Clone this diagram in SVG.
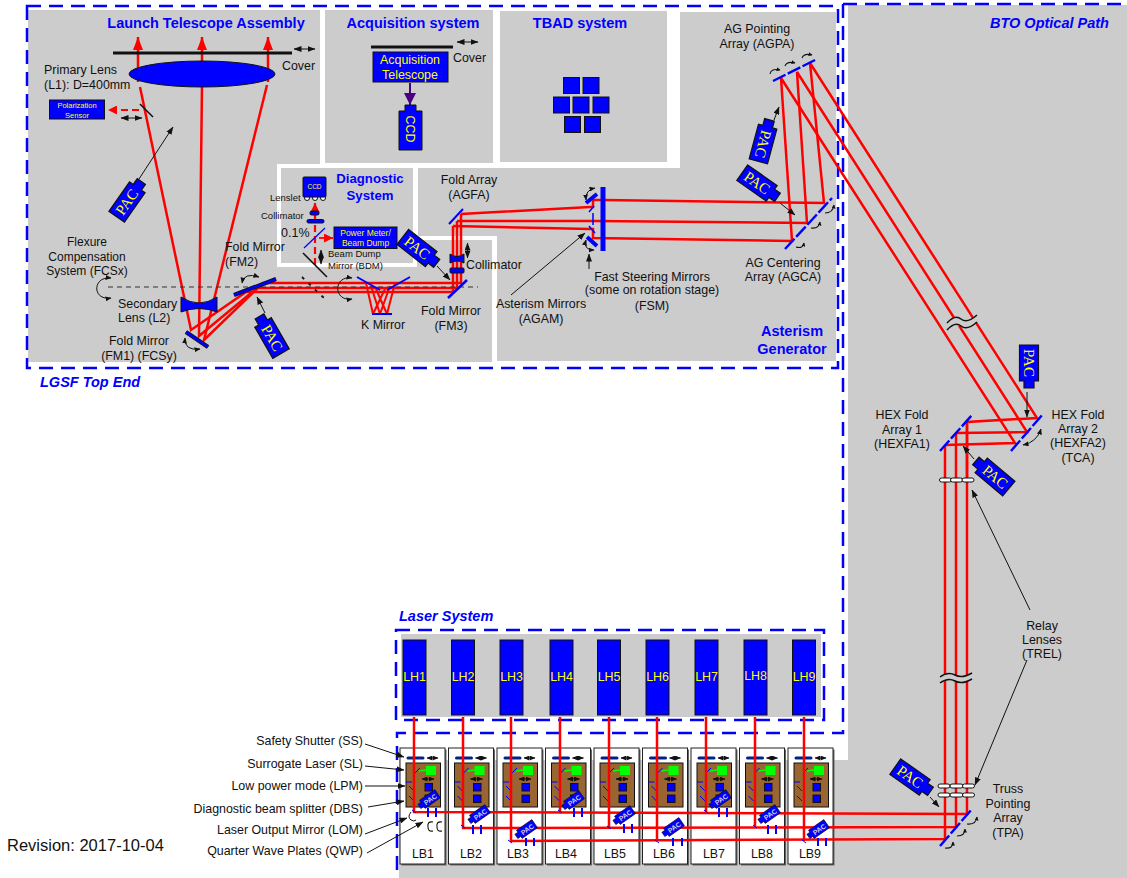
<svg xmlns="http://www.w3.org/2000/svg" width="1127" height="878" viewBox="0 0 1127 878">
<style>
text{font-family:"Liberation Sans",Arial,sans-serif;fill:#111;font-size:12.4px}
.m{text-anchor:middle}
.e{text-anchor:end}
.t{font-weight:bold;fill:#00f;font-size:14.5px;text-anchor:middle}
.i{font-weight:bold;font-style:italic;fill:#00f;font-size:14.5px}
.y{fill:#ff0;text-anchor:middle}
.p{font-family:"Liberation Serif",serif;font-size:15px;fill:#ff0;text-anchor:middle}
.ps{font-family:"Liberation Sans",sans-serif;font-size:7px;font-weight:bold;fill:#ccd;text-anchor:middle}
.bg{fill:#ccc}
.dash{fill:none;stroke:#00f;stroke-width:2.5;stroke-dasharray:14 8}
.b{fill:#00f;stroke:#111;stroke-width:1}
.r{fill:none;stroke:#f00;stroke-width:2.5;stroke-linejoin:miter}
.rd{fill:none;stroke:#f00;stroke-width:2.2;stroke-dasharray:7 4}
.a{fill:none;stroke:#111;stroke-width:1;marker-end:url(#ah)}
.d{fill:none;stroke:#111;stroke-width:1;marker-start:url(#ahs);marker-end:url(#ah)}
.c{fill:none;stroke:#111;stroke-width:1;marker-end:url(#ah2);marker-start:url(#ah2s)}
.cs{fill:none;stroke:#111;stroke-width:1.1;marker-end:url(#ah3)}
.mb{fill:none;stroke:#00f;stroke-width:2}
.mbd{fill:none;stroke:#00f;stroke-width:2.4;stroke-dasharray:14 2.5}
.mt{fill:none;stroke:#111;stroke-width:4.2}
.mf{fill:none;stroke:#00f;stroke-width:2.6}
.lens{fill:#fff;stroke:#111;stroke-width:1}
</style>
<defs>
<marker id="ah" viewBox="0 0 8 6" refX="7.5" refY="3" markerWidth="8" markerHeight="6" markerUnits="userSpaceOnUse" orient="auto"><path d="M0,0L8,3L0,6Z" fill="#111"/></marker>
<marker id="ahs" viewBox="0 0 8 6" refX="0.5" refY="3" markerWidth="8" markerHeight="6" markerUnits="userSpaceOnUse" orient="auto"><path d="M8,0L0,3L8,6Z" fill="#111"/></marker>
<marker id="ah2" viewBox="0 0 6 5" refX="5.5" refY="2.500" markerWidth="6" markerHeight="5" markerUnits="userSpaceOnUse" orient="auto"><path d="M0,0L6,2.500L0,5Z" fill="#111"/></marker>
<marker id="ah2s" viewBox="0 0 6 5" refX="0.5" refY="2.500" markerWidth="6" markerHeight="5" markerUnits="userSpaceOnUse" orient="auto"><path d="M6,0L0,2.500L6,5Z" fill="#111"/></marker>
<marker id="ah3" viewBox="0 0 4 4" refX="3.500" refY="2" markerWidth="4" markerHeight="4" markerUnits="userSpaceOnUse" orient="auto"><path d="M0,0L4,2L0,4Z" fill="#111"/></marker>
<marker id="rh" viewBox="0 0 13 10" refX="13" refY="5" markerWidth="13" markerHeight="10" markerUnits="userSpaceOnUse" orient="auto"><path d="M0,0L13,5L0,10Z" fill="#f00"/></marker>
<marker id="rs" viewBox="0 0 10 10" refX="10" refY="5" markerWidth="9" markerHeight="9" markerUnits="userSpaceOnUse" orient="auto"><path d="M0,0L10,5L0,10Z" fill="#f00"/></marker>
<marker id="ph" viewBox="0 0 10 10" refX="10" refY="5" markerWidth="12" markerHeight="12" markerUnits="userSpaceOnUse" orient="auto"><path d="M0,0L10,5L0,10Z" fill="#4b0082"/></marker>
<path id="pac" d="M-18,-9.500H18V-5H25V5H18V9.500H-18Z" fill="#00f" stroke="#111" stroke-width="1.200"/>
<g id="lbin">
<rect x="6" y="763" width="34.500" height="44" fill="#996633" stroke="#111"/>
<line x1="8" y1="758" x2="23" y2="758" stroke="#00208a" stroke-width="3" stroke-linecap="round"/>
<line x1="27" y1="758" x2="38" y2="758" stroke="#111" marker-start="url(#ah2s)" marker-end="url(#ah2)"/>
<rect x="26" y="766" width="10" height="9" fill="#0f0"/>
<line x1="19" y1="771" x2="26" y2="770" stroke="#0f0" stroke-width="1.500"/>
<line x1="15" y1="773" x2="20" y2="768" stroke="#00f"/>
<line x1="22" y1="779" x2="34" y2="779" stroke="#111" marker-start="url(#ah2s)" marker-end="url(#ah2)"/>
<rect x="25" y="783.500" width="7.500" height="7.500" class="b"/>
<rect x="25" y="795" width="7.500" height="7.500" class="b"/>
<line x1="6" y1="782" x2="12" y2="782" stroke="#00f"/>
<line x1="9" y1="786" x2="14" y2="791" stroke="#00f"/>
<line x1="9" y1="796" x2="14" y2="801" stroke="#00f"/>
</g>
</defs>

<g id="background">
<rect width="1127" height="878" fill="#fff"/>
<path class="bg" d="M28,10H320V164H277V267H417V240H492V362H28Z"/>
<rect class="bg" x="325" y="10" width="168" height="153"/>
<rect class="bg" x="500" y="11" width="167" height="151"/>
<rect class="bg" x="281" y="168" width="132" height="95"/>
<path class="bg" d="M680,12H836V361H497V236H418V168H680Z"/>
<path class="bg" d="M848,5H1127V878H399V760H848Z"/>
<rect class="bg" x="401" y="634" width="420" height="83"/>
<path class="dash" d="M27,6H838V368H27Z"/>
<path class="dash" d="M843,4H1127"/>
<path class="dash" d="M843,4V733H397V878"/>
<path class="dash" d="M396,630H824V720H396Z"/>
</g>

<g id="labels-frame">
<text class="t" x="206" y="28">Launch Telescope Assembly</text>
<text class="t" x="413" y="28">Acquisition system</text>
<text class="t" x="580" y="28">TBAD system</text>
<text class="i" x="990" y="28">BTO Optical Path</text>
<text class="i" x="40" y="387">LGSF Top End</text>
<text class="i" x="399" y="621">Laser System</text>
<text class="t" x="792" y="336">Asterism</text>
<text class="t" x="792" y="354">Generator</text>
<text class="t" x="370" y="183" style="font-size:13.200px">Diagnostic</text>
<text class="t" x="370" y="200" style="font-size:13.200px">System</text>
<text x="7" y="851" style="font-size:16.500px">Revision: 2017-10-04</text>
</g>

<g id="lb-boxes">
<g id="lb1"><rect x="401.500" y="749.500" width="45" height="116" fill="#666"/><rect x="400" y="748" width="45" height="116" fill="#fff" stroke="#222"/><use href="#lbin" x="400"/><text class="m" x="423" y="858">LB1</text></g>
<g id="lb2"><rect x="450" y="749.500" width="45" height="116" fill="#666"/><rect x="448.500" y="748" width="45" height="116" fill="#fff" stroke="#222"/><use href="#lbin" x="448.500"/><text class="m" x="471" y="858">LB2</text></g>
<g id="lb3"><rect x="498.500" y="749.500" width="45" height="116" fill="#666"/><rect x="497" y="748" width="45" height="116" fill="#fff" stroke="#222"/><use href="#lbin" x="497"/><text class="m" x="518" y="858">LB3</text></g>
<g id="lb4"><rect x="547" y="749.500" width="45" height="116" fill="#666"/><rect x="545.500" y="748" width="45" height="116" fill="#fff" stroke="#222"/><use href="#lbin" x="545.500"/><text class="m" x="566" y="858">LB4</text></g>
<g id="lb5"><rect x="595.500" y="749.500" width="45" height="116" fill="#666"/><rect x="594" y="748" width="45" height="116" fill="#fff" stroke="#222"/><use href="#lbin" x="594"/><text class="m" x="615" y="858">LB5</text></g>
<g id="lb6"><rect x="644" y="749.500" width="45" height="116" fill="#666"/><rect x="642.500" y="748" width="45" height="116" fill="#fff" stroke="#222"/><use href="#lbin" x="642.500"/><text class="m" x="664" y="858">LB6</text></g>
<g id="lb7"><rect x="692.500" y="749.500" width="45" height="116" fill="#666"/><rect x="691" y="748" width="45" height="116" fill="#fff" stroke="#222"/><use href="#lbin" x="691"/><text class="m" x="714" y="858">LB7</text></g>
<g id="lb8"><rect x="741" y="749.500" width="45" height="116" fill="#666"/><rect x="739.500" y="748" width="45" height="116" fill="#fff" stroke="#222"/><use href="#lbin" x="739.500"/><text class="m" x="762" y="858">LB8</text></g>
<g id="lb9"><rect x="789.500" y="749.500" width="45" height="116" fill="#666"/><rect x="788" y="748" width="45" height="116" fill="#fff" stroke="#222"/><use href="#lbin" x="788"/><text class="m" x="810" y="858">LB9</text></g>
</g>

<g id="connectors">
<path class="r" d="M138,82V37" marker-end="url(#rh)"/>
<path class="r" d="M202,82V37" marker-end="url(#rh)"/>
<path class="r" d="M268,82V37" marker-end="url(#rh)"/>
<path class="r" d="M140,87L191,330L246,292H453V226"/>
<path class="r" d="M202,85L199,336L257,288H457V221"/>
<path class="r" d="M267,85L204,340L263,283H461V214"/>
<path class="r" d="M366,283L373,314M371,286L380,314M376,289L387,314M395,283L387,314M390,286L380,314M385,289L373,314" style="stroke-width:2"/>
<path class="r" d="M461,214L590,207H593V200H603L824,203L810,63L1037,418L967,422V480"/>
<path class="r" d="M457,221L594,221L807,223L797,72L1027,432L956,433"/>
<path class="r" d="M453,226L590,229H593V238L792,241L781,78L1015,443L945,445"/>
<path class="r" d="M967,422V814L414,812V717"/>
<path class="r" d="M956,433V827L463,828V717"/>
<path class="r" d="M945,445V839L511,841V717"/>
<path class="r" d="M560,717V812M609,717V828M657,717V841M706,717V812M755,717V828M804,717V841"/>
<path class="rd" d="M139,110H108" marker-end="url(#rs)"/>
<path class="rd" d="M315,265V203" marker-end="url(#rs)"/>
<path class="r" d="M319,238H333" style="stroke-width:1.800" marker-end="url(#rs)"/>
<path d="M410,83V105" stroke="#4b0082" stroke-width="2" fill="none" marker-end="url(#ph)"/>
<path class="a" d="M137,182L173,127"/>
<path class="a" d="M265,313L257,297"/>
<path class="a" d="M437,266L450,280"/>
<path class="a" d="M774,120L779,107"/>
<path class="a" d="M780,203L795,215"/>
<path class="a" d="M1027,392V417"/>
<path class="a" d="M974,459L963,446"/>
<path class="a" d="M930,797L939,807"/>
<path class="a" d="M511,295L585,233"/>
<path class="a" d="M589,269V254"/>
<path class="a" d="M1030,610L972,490"/>
<path class="a" d="M1027,660L975,785"/>
<path class="a" d="M365,744L404,757"/>
<path class="a" d="M365,766L404,770"/>
<path class="a" d="M365,786L405,786"/>
<path class="a" d="M368,807L404,801"/>
<path class="a" d="M365,834L407,818"/>
<path class="a" d="M367,853L423,822"/>
<path class="d" d="M294,49H315"/>
<path class="d" d="M457,42H478"/>
<path class="d" d="M121,118H142"/>
<path class="d" d="M321,250V264"/>
<path class="d" d="M467.500,243V258"/>
<path class="c" d="M242,283Q244,272 259,277"/>
<path class="c" d="M185,338Q184,351 200,349"/>
<path class="c" d="M586,200Q585,190 595,188"/>
<path class="c" d="M586,240Q583,250 594,250"/>
<path class="c" d="M111,278C92,276 92,301 111,298"/>
<path class="c" d="M352,278C333,275 333,302 352,299"/>
<path class="cs" d="M796,247Q803,249 804,243"/>
<path class="cs" d="M811,228Q819,229 820,222"/>
<path class="cs" d="M825,213Q833,213 834,205"/>
<path class="cs" d="M770,74Q771,68 780,70"/>
<path class="cs" d="M785,66Q787,61 795,63"/>
<path class="cs" d="M802,58Q804,53 812,55"/>
<path class="c" d="M1023,445Q1037,442 1041,429"/>
<path class="cs" d="M945,848Q953,849 953,842"/>
<path class="cs" d="M957,836Q965,836 965,829"/>
<path class="cs" d="M967,824Q976,825 977,817"/>
<path d="M108,287H478" stroke="#333" stroke-width="1" stroke-dasharray="5 4" fill="none"/>
</g>

<g id="breaks">
<path d="M947,323Q955,314 961,319T977,315L977,322Q968,326 961,326T947,330Z" fill="#ccc"/>
<path d="M947,323Q955,314 961,319T977,315M947,330Q955,321 961,326T977,322" fill="none" stroke="#111" stroke-width="1.500"/>
<path d="M940,677Q948,671 955,675T972,673L972,680Q964,684 955,681T940,683Z" fill="#ccc"/>
<path d="M940,677Q948,671 955,675T972,673M940,683Q948,677 955,681T972,679" fill="none" stroke="#111" stroke-width="1.500"/>
</g>

<g id="telescope">
<line x1="113" y1="53" x2="292" y2="53" stroke="#111" stroke-width="3"/>
<ellipse id="primary-lens" cx="202" cy="74" rx="73" ry="13" class="b"/>
<text x="282" y="70">Cover</text>
<text x="44" y="74">Primary Lens</text>
<text x="44" y="89">(L1): D=400mm</text>
<g id="polarization-sensor"><rect x="49.500" y="100" width="55" height="19" class="b"/><text class="y" x="77" y="108" style="font-size:7.500px">Polarization</text><text class="y" x="77" y="118" style="font-size:7.500px">Sensor</text></g>
<line x1="140" y1="104" x2="153" y2="117" stroke="#111" stroke-width="1.500"/>
<g id="secondary-lens"><path d="M181,297Q199,309 217,297V312Q199,305 181,312Z" class="b"/></g>
<line x1="186" y1="332" x2="208" y2="347" class="mt"/><line x1="186" y1="332" x2="208" y2="347" class="mf"/>
<line x1="234" y1="295" x2="276" y2="279" class="mt"/><line x1="234" y1="295" x2="276" y2="279" class="mf"/>
<text class="m" x="87" y="246" style="font-size:12px">Flexure</text>
<text class="m" x="87" y="261" style="font-size:12px">Compensation</text>
<text class="m" x="87" y="275" style="font-size:12px">System (FCSx)</text>
<text x="118" y="308">Secondary</text>
<text x="118" y="322">Lens (L2)</text>
<text class="m" x="139" y="345">Fold Mirror</text>
<text class="m" x="139" y="360">(FM1) (FCSy)</text>
<text x="225" y="251">Fold Mirror</text>
<text x="225" y="266">(FM2)</text>
<text class="m" x="383" y="329">K Mirror</text>
<text class="m" x="451" y="315">Fold Mirror</text>
<text class="m" x="451" y="330">(FM3)</text>
<text x="466" y="269">Collimator</text>
<g id="k-mirror"><path class="mb" d="M357,277L380,290M410,277L387,290M372,314H392"/></g>
<line x1="448" y1="298" x2="467" y2="280" class="mb" style="stroke-width:2.500"/>
<path d="M302,277L326,300" stroke="#111" stroke-width="1.800" stroke-dasharray="3 6" fill="none"/>
<g id="collimator"><path class="b" d="M450,254Q457,259 464,254V263Q457,259 450,263Z"/><rect x="450" y="268" width="14" height="5" rx="1" class="b"/></g>
</g>

<g id="acquisition">
<line x1="371" y1="47" x2="453" y2="47" stroke="#111" stroke-width="3"/>
<g id="acq-telescope"><rect x="373" y="52" width="75" height="30" class="b"/><text class="y" x="410" y="64">Acquisition</text><text class="y" x="410" y="79">Telescope</text></g>
<text x="453" y="62">Cover</text>
<g id="acq-ccd"><path d="M399,111H405V105H416V111H422V150H399Z" class="b"/><text class="y" transform="translate(410,129) rotate(90)" y="4">CCD</text></g>
</g>

<g id="tbad">
<rect x="563.500" y="77.500" width="16" height="16" class="b"/><rect x="583" y="77.500" width="16" height="16" class="b"/>
<rect x="553.500" y="97" width="16" height="16" class="b"/><rect x="573" y="97" width="16" height="16" class="b"/><rect x="593" y="97" width="16" height="16" class="b"/>
<rect x="564.500" y="116.500" width="16" height="16" class="b"/><rect x="584.500" y="116.500" width="16" height="16" class="b"/>
</g>

<g id="diagnostic">
<g id="diag-ccd"><circle cx="307" cy="198" r="2.500" class="lens"/><circle cx="315" cy="198" r="2.500" class="lens"/><circle cx="323" cy="198" r="2.500" class="lens"/><rect x="303" y="177" width="23" height="20" rx="1" class="b"/><text class="y" x="314.500" y="189" style="font-size:6.500px">CCD</text></g>
<rect x="310" y="211" width="9" height="4" rx="1.500" class="b"/>
<rect x="307" y="219.500" width="17" height="3.500" rx="1.500" class="b"/>
<text x="270" y="201" style="font-size:9.500px">Lenslet</text>
<text x="261" y="219" style="font-size:9.500px">Collimator</text>
<text x="281" y="237" style="font-size:12.500px">0.1%</text>
<line x1="304" y1="248" x2="325" y2="228" stroke="#00f" stroke-width="1.200"/>
<g id="power-meter"><rect x="334" y="227" width="63" height="21.500" class="b"/><text class="y" x="365.500" y="236" style="font-size:8.500px">Power Meter/</text><text class="y" x="365.500" y="246" style="font-size:8.500px">Beam Dump</text></g>
<line x1="303" y1="253" x2="327" y2="277" stroke="#111" stroke-width="1.500"/>
<text x="328" y="257" style="font-size:9.500px">Beam Dump</text>
<text x="328" y="269" style="font-size:9.500px">Mirror (BDM)</text>
</g>

<g id="asterism">
<text class="m" x="469" y="184">Fold Array</text>
<text class="m" x="469" y="199">(AGFA)</text>
<line x1="449" y1="224" x2="463" y2="209" class="mb"/>
<rect x="600.500" y="187" width="5" height="64" fill="#00f"/>
<line x1="586" y1="203" x2="597" y2="194" class="mf" style="stroke-width:4"/>
<line x1="587" y1="237" x2="597" y2="246" class="mf" style="stroke-width:4"/>
<path d="M589,212L594,206M593,213V225M589,226L595,233" fill="none" stroke="#00f" stroke-width="1.500"/>
<text class="m" x="541" y="308">Asterism Mirrors</text>
<text class="m" x="541" y="323">(AGAM)</text>
<text class="m" x="652" y="281">Fast Steering Mirrors</text>
<text class="m" x="652" y="294">(some on rotation stage)</text>
<text class="m" x="652" y="310">(FSM)</text>
<line x1="785" y1="249" x2="832" y2="198" class="mbd"/>
<text class="m" x="783" y="267">AG Centering</text>
<text class="m" x="783" y="281">Array (AGCA)</text>
<line x1="773" y1="81" x2="817" y2="59" class="mbd"/>
<text class="m" x="757" y="33">AG Pointing</text>
<text class="m" x="757" y="48">Array (AGPA)</text>
</g>

<g id="bto">
<line x1="940" y1="451" x2="972" y2="415" class="mbd"/>
<line x1="1011" y1="451" x2="1043" y2="414" class="mbd"/>
<line x1="940" y1="846" x2="972" y2="809" class="mbd"/>
<text class="m" x="902" y="419">HEX Fold</text><text class="m" x="902" y="434">Array 1</text><text class="m" x="902" y="448">(HEXFA1)</text>
<text class="m" x="1078" y="419">HEX Fold</text><text class="m" x="1078" y="433">Array 2</text><text class="m" x="1078" y="447">(HEXFA2)</text><text class="m" x="1078" y="462">(TCA)</text>
<text class="m" x="1042" y="630">Relay</text><text class="m" x="1042" y="644">Lenses</text><text class="m" x="1042" y="658">(TREL)</text>
<text class="m" x="1008" y="793">Truss</text><text class="m" x="1008" y="808">Pointing</text><text class="m" x="1008" y="822">Array</text><text class="m" x="1008" y="837">(TPA)</text>
<g id="relay-1"><rect x="939.500" y="478" width="12" height="4" rx="2" class="lens"/><rect x="950.500" y="478" width="12" height="4" rx="2" class="lens"/><rect x="962" y="478" width="12" height="4" rx="2" class="lens"/></g>
<g id="relay-2"><rect x="938" y="784" width="12" height="4" rx="2" class="lens"/><rect x="950" y="784" width="13" height="4" rx="2" class="lens"/><rect x="962.500" y="784" width="12" height="4" rx="2" class="lens"/><rect x="938" y="793" width="12" height="4" rx="2" class="lens"/><rect x="950" y="793" width="13" height="4" rx="2" class="lens"/><rect x="962.500" y="793" width="12" height="4" rx="2" class="lens"/></g>
</g>

<g id="laser-heads">
<g id="lh1"><rect x="403" y="640" width="23" height="75" class="b"/><text class="y" x="414.500" y="681">LH1</text></g>
<g id="lh2"><rect x="451.500" y="640" width="23" height="75" class="b"/><text class="y" x="463" y="681">LH2</text></g>
<g id="lh3"><rect x="500" y="640" width="23" height="75" class="b"/><text class="y" x="511.500" y="681">LH3</text></g>
<g id="lh4"><rect x="550" y="640" width="23" height="75" class="b"/><text class="y" x="561.500" y="681">LH4</text></g>
<g id="lh5"><rect x="597.500" y="640" width="23" height="75" class="b"/><text class="y" x="609" y="681">LH5</text></g>
<g id="lh6"><rect x="646" y="640" width="23" height="75" class="b"/><text class="y" x="657.500" y="681">LH6</text></g>
<g id="lh7"><rect x="695" y="640" width="23" height="75" class="b"/><text class="y" x="706.500" y="681">LH7</text></g>
<g id="lh8"><rect x="744" y="640" width="23" height="75" class="b"/><text class="y" x="755.500" y="680">LH8</text></g>
<g id="lh9"><rect x="792.500" y="640" width="23" height="75" class="b"/><text class="y" x="804" y="681">LH9</text></g>
</g>

<g id="lb-details">
<path d="M428,808v9M436,808v9M574,808v9M582,808v9M719,808v9M727,808v9M473,825v9M481,825v9M624,824v9M632,824v9M768,825v9M776,825v9M526,838v8M534,838v8M673,838v8M682,838v8M818,838v8M826,838v8" stroke="#00f" stroke-width="2" fill="none"/>
<path d="M558,810l4,3M704,810l4,3M412,810l4,3M461,825l4,3M607,826l4,3M753,825l4,3M508,840l4,3M655,840l4,3M802,840l4,3" stroke="#00f" stroke-width="1" fill="none"/>
<path d="M411,812Q407,817 411,820Q414,822 416,820" fill="none" stroke="#111"/>
<path d="M433,822Q427,821 428,827Q428,832 433,831M442,822Q436,821 437,827Q437,832 442,831" fill="none" stroke="#111" stroke-width="1.100"/>
<text class="e" x="363" y="745">Safety Shutter (SS)</text>
<text class="e" x="363" y="768">Surrogate Laser (SL)</text>
<text class="e" x="363" y="790">Low power mode (LPM)</text>
<text class="e" x="363" y="813">Diagnostic beam splitter (DBS)</text>
<text class="e" x="363" y="834">Laser Output Mirror (LOM)</text>
<text class="e" x="363" y="855">Quarter Wave Plates (QWP)</text>
</g>

<g id="pac-cameras">
<g id="pac-lgs" transform="translate(127,202) rotate(-55)"><use href="#pac"/><text class="p" y="5">PAC</text></g>
<g id="pac-fm2" transform="translate(272,338) rotate(60)"><use href="#pac" transform="scale(-1,1)"/><text class="p" y="5">PAC</text></g>
<g id="pac-fm3" transform="translate(417,248) rotate(38)"><use href="#pac"/><text class="p" y="5">PAC</text></g>
<g id="pac-agpa" transform="translate(763,144) rotate(105)"><use href="#pac" transform="scale(-1,1)"/><text class="p" y="5">PAC</text></g>
<g id="pac-agca" transform="translate(757,183) rotate(35)"><use href="#pac"/><text class="p" y="5">PAC</text></g>
<g id="pac-hex2" transform="translate(1029,363) rotate(90)"><use href="#pac"/><text class="p" y="5">PAC</text></g>
<g id="pac-hex1" transform="translate(995,477) rotate(40)"><use href="#pac" transform="scale(-1,1)"/><text class="p" y="5">PAC</text></g>
<g id="pac-tpa" transform="translate(910,777) rotate(35)"><use href="#pac"/><text class="p" y="5">PAC</text></g>
<g transform="translate(430,799) rotate(-35) scale(.52)"><use href="#pac" transform="scale(-1,1)"/><text class="ps" transform="scale(1.900)" y="3">PAC</text></g>
<g transform="translate(480,814) rotate(-35) scale(.52)"><use href="#pac" transform="scale(-1,1)"/><text class="ps" transform="scale(1.900)" y="3">PAC</text></g>
<g transform="translate(527,829) rotate(-35) scale(.52)"><use href="#pac" transform="scale(-1,1)"/><text class="ps" transform="scale(1.900)" y="3">PAC</text></g>
<g transform="translate(574,800) rotate(-35) scale(.52)"><use href="#pac" transform="scale(-1,1)"/><text class="ps" transform="scale(1.900)" y="3">PAC</text></g>
<g transform="translate(625,815) rotate(-35) scale(.52)"><use href="#pac" transform="scale(-1,1)"/><text class="ps" transform="scale(1.900)" y="3">PAC</text></g>
<g transform="translate(674,827) rotate(-35) scale(.52)"><use href="#pac" transform="scale(-1,1)"/><text class="ps" transform="scale(1.900)" y="3">PAC</text></g>
<g transform="translate(721,799) rotate(-35) scale(.52)"><use href="#pac" transform="scale(-1,1)"/><text class="ps" transform="scale(1.900)" y="3">PAC</text></g>
<g transform="translate(770,814) rotate(-35) scale(.52)"><use href="#pac" transform="scale(-1,1)"/><text class="ps" transform="scale(1.900)" y="3">PAC</text></g>
<g transform="translate(819,829) rotate(-35) scale(.52)"><use href="#pac" transform="scale(-1,1)"/><text class="ps" transform="scale(1.900)" y="3">PAC</text></g>
</g>
</svg>
